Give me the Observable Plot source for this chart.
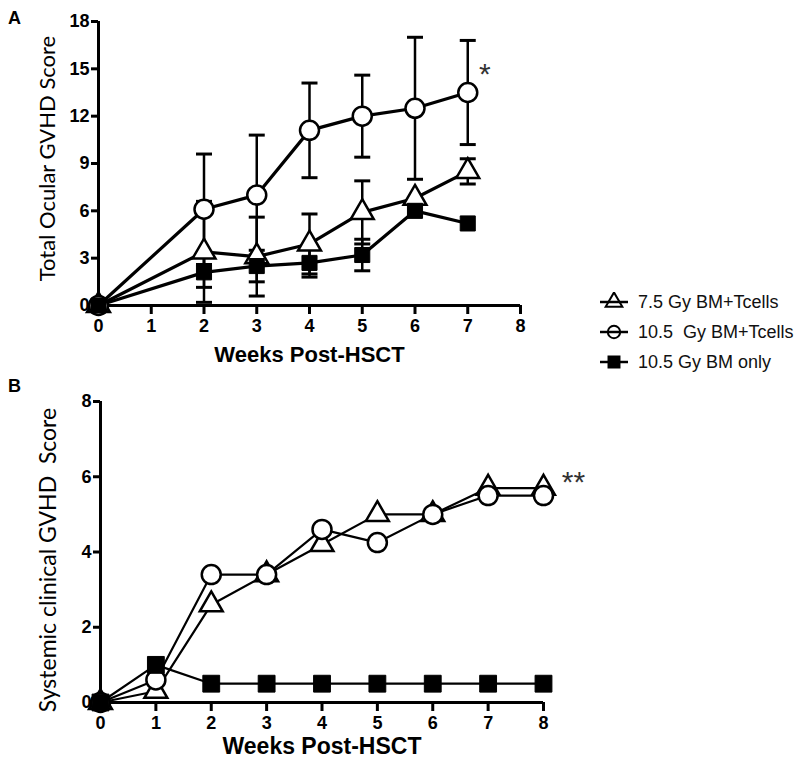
<!DOCTYPE html>
<html>
<head>
<meta charset="utf-8">
<script src="https://cdn.jsdelivr.net/npm/d3@7"></script>
<script src="https://cdn.jsdelivr.net/npm/@observablehq/plot@0.6"></script>
<style>
  html, body { margin: 0; padding: 0; background: #fff; }
  #root { position: relative; width: 800px; height: 763px; overflow: hidden; font-family: "Liberation Sans", Arial, sans-serif; }
  #root svg text { white-space: pre; }
  .panel { position: absolute; }
  .plab { position: absolute; font-weight: bold; font-size: 18px; }
  #legend { position: absolute; left: 599px; top: 287px; }
  .lrow { display: flex; align-items: center; height: 30px; font-size: 18px; white-space: pre; color: #111; }
  .lrow svg { margin-right: 9px; }
</style>
</head>
<body>
<div id="root">
  <div class="plab" style="left:8px; top:8px;">A</div>
  <div class="plab" style="left:8px; top:376px;">B</div>
  <div id="panelA" class="panel" style="left:0; top:0;"></div>
  <div id="panelB" class="panel" style="left:0; top:380px;"></div>
  <div id="legend"></div>
</div>
<script>
// ---------- Data ----------
const seriesNames = ["7.5 Gy BM+Tcells", "10.5  Gy BM+Tcells", "10.5 Gy BM only"];

// Panel A: Total Ocular GVHD Score (mean ± error)
const weeksA = [0, 2, 3, 4, 5, 6, 7];
const triA      = [0, 3.4, 3.1, 3.9, 5.9, 6.8, 8.5];
const triAErr   = [0, 3.2, 2.5, 1.9, 2.0, 0,   0.8];
const circA     = [0, 6.1, 7.0, 11.1, 12.0, 12.5, 13.5];
const circAErr  = [0, 3.5, 3.8, 3.0, 2.6, 4.5, 3.3];
const sqA       = [0, 2.1, 2.5, 2.7, 3.2, 6.0, 5.2];
const sqAErr    = [0, 0.95, 1.0, 0.9, 1.0, 0, 0];
const yTicksA = [0, 3, 6, 9, 12, 15, 18];
const xTicksA = [0, 1, 2, 3, 4, 5, 6, 7, 8];
const starA = [{week: 7, value: 15.0, label: "*"}];

// Panel B: Systemic clinical GVHD Score
const weeksB = [0, 1, 2, 3, 4, 5, 6, 7, 8];
const triB  = [0, 0.3, 2.6, 3.4, 4.2, 5.0, 5.0, 5.7, 5.7];
const circB = [0, 0.6, 3.4, 3.4, 4.6, 4.25, 5.0, 5.5, 5.5];
const sqB   = [0, 1.0, 0.5, 0.5, 0.5, 0.5, 0.5, 0.5, 0.5];
const yTicksB = [0, 2, 4, 6, 8];
const xTicksB = [0, 1, 2, 3, 4, 5, 6, 7, 8];
const starB = [{week: 8, value: 6.0, label: "**"}];

// ---------- Build tables ----------
function rows(weeks, vals, errs, group) {
  return weeks.map((w, i) => ({week: w, value: vals[i], err: errs ? errs[i] : 0, group}));
}
const triRowsA = rows(weeksA, triA, triAErr, seriesNames[0]);
const circRowsA = rows(weeksA, circA, circAErr, seriesNames[1]);
const sqRowsA = rows(weeksA, sqA, sqAErr, seriesNames[2]);
const allA = [...triRowsA, ...circRowsA, ...sqRowsA];
const errA = allA.filter(d => d.err > 0);

const triRowsB = rows(weeksB, triB, null, seriesNames[0]);
const circRowsB = rows(weeksB, circB, null, seriesNames[1]);
const sqRowsB = rows(weeksB, sqB, null, seriesNames[2]);
const allB = [...triRowsB, ...circRowsB, ...sqRowsB];

const capSymbol = { draw(ctx) { ctx.moveTo(-8, 0); ctx.lineTo(8, 0); } };
const FONT = '"Liberation Sans", Arial, sans-serif';
const TITLE_FONT = 'Lato, "Open Sans", sans-serif';

function axes(xTicks, yTicks) {
  return [
    Plot.axisY({ticks: yTicks, tickSize: 7, tickPadding: 2, fontSize: 18, fontWeight: "bold", strokeWidth: 3, label: null, tickFormat: d => String(d)}),
    Plot.axisX({ticks: xTicks, tickSize: 9, tickPadding: 5, fontSize: 18, fontWeight: "bold", strokeWidth: 3, label: null, tickFormat: d => String(d)}),
    Plot.ruleX([0], {strokeWidth: 3}),
    Plot.ruleY([0], {strokeWidth: 3})
  ];
}

// ---------- Panel A ----------
const plotA = Plot.plot({
  width: 560, height: 370,
  marginLeft: 98, marginRight: 40, marginTop: 21, marginBottom: 65,
  style: {fontFamily: FONT, color: "#000", background: "transparent", overflow: "visible"},
  x: {domain: [0, 8]},
  y: {domain: [0, 18]},
  marks: [
    ...axes(xTicksA, yTicksA),
    Plot.ruleX(errA, {x: "week", y1: d => d.value - d.err, y2: d => d.value + d.err, stroke: "#000", strokeWidth: 2.5}),
    Plot.dot(errA, {x: "week", y: d => d.value + d.err, symbol: capSymbol, fill: "none", stroke: "#000", strokeWidth: 3}),
    Plot.dot(errA, {x: "week", y: d => d.value - d.err, symbol: capSymbol, fill: "none", stroke: "#000", strokeWidth: 3}),
    Plot.line(allA, {x: "week", y: "value", z: "group", stroke: "#000", strokeWidth: 3.2}),
    Plot.dot(triRowsA, {x: "week", y: "value", symbol: "triangle", r: 8.5, fill: "#fff", stroke: "#000", strokeWidth: 2.5}),
    Plot.dot(circRowsA, {x: "week", y: "value", symbol: "circle", r: 9.5, fill: "#fff", stroke: "#000", strokeWidth: 2.5}),
    Plot.dot(sqRowsA, {x: "week", y: "value", symbol: "square", r: 8.5, fill: "#000", stroke: "#000", strokeWidth: 1}),
    Plot.text(starA, {x: "week", y: "value", text: "label", dx: 17, dy: 6, fontSize: 30, fontFamily: FONT, fill: "#333"}),
    Plot.text(["Weeks Post-HSCT"], {frameAnchor: "bottom", textAnchor: "middle", dy: 56, fontSize: 22, fontWeight: "bold", fontFamily: FONT, fill: "#000"}),
    Plot.text(["Total Ocular GVHD Score"], {frameAnchor: "left", textAnchor: "middle", rotate: -90, dx: -51, dy: -5, fontSize: 22, fontFamily: TITLE_FONT, fill: "#000"})
  ]
});
document.getElementById("panelA").appendChild(plotA);

// ---------- Panel B ----------
const plotB = Plot.plot({
  width: 620, height: 383,
  marginLeft: 100, marginRight: 77, marginTop: 21, marginBottom: 61,
  style: {fontFamily: FONT, color: "#000", background: "transparent", overflow: "visible"},
  x: {domain: [0, 8]},
  y: {domain: [0, 8]},
  marks: [
    ...axes(xTicksB, yTicksB),
    Plot.line(allB, {x: "week", y: "value", z: "group", stroke: "#000", strokeWidth: 2.2}),
    Plot.dot(triRowsB, {x: "week", y: "value", symbol: "triangle", r: 8.5, fill: "#fff", stroke: "#000", strokeWidth: 2.5}),
    Plot.dot(circRowsB, {x: "week", y: "value", symbol: "circle", r: 9.5, fill: "#fff", stroke: "#000", strokeWidth: 2.5}),
    Plot.dot(sqRowsB, {x: "week", y: "value", symbol: "square", r: 9.5, fill: "#000", stroke: "#000", strokeWidth: 1}),
    Plot.text(starB, {x: "week", y: "value", text: "label", dx: 30, dy: 6, fontSize: 30, fontFamily: FONT, fill: "#333", letterSpacing: 2}),
    Plot.text(["Weeks Post-HSCT"], {frameAnchor: "bottom", textAnchor: "middle", dy: 51, fontSize: 23, fontWeight: "bold", fontFamily: FONT, fill: "#000"}),
    Plot.text(["Systemic clinical GVHD  Score"], {frameAnchor: "left", textAnchor: "middle", rotate: -90, dx: -52, dy: 8, fontSize: 23, fontFamily: TITLE_FONT, fill: "#000"})
  ]
});
document.getElementById("panelB").appendChild(plotB);

// ---------- Legend ----------
const legendSymbols = ["triangle", "circle", "square"];
const legend = d3.select("#legend");
seriesNames.forEach((name, i) => {
  const row = legend.append("div").attr("class", "lrow");
  const svg = row.append("svg").attr("width", 30).attr("height", 20);
  svg.append("line").attr("x1", 1).attr("x2", 29).attr("y1", 10).attr("y2", 10).attr("stroke", "#000").attr("stroke-width", 2.5);
  const sym = legendSymbols[i] === "triangle" ? d3.symbolTriangle : legendSymbols[i] === "circle" ? d3.symbolCircle : d3.symbolSquare;
  svg.append("path")
    .attr("d", d3.symbol(sym, 120)())
    .attr("transform", "translate(15,10)")
    .attr("fill", legendSymbols[i] === "square" ? "#000" : "none")
    .attr("stroke", "#000").attr("stroke-width", 2);
  row.append("span").text(name);
});
</script>
</body>
</html>
